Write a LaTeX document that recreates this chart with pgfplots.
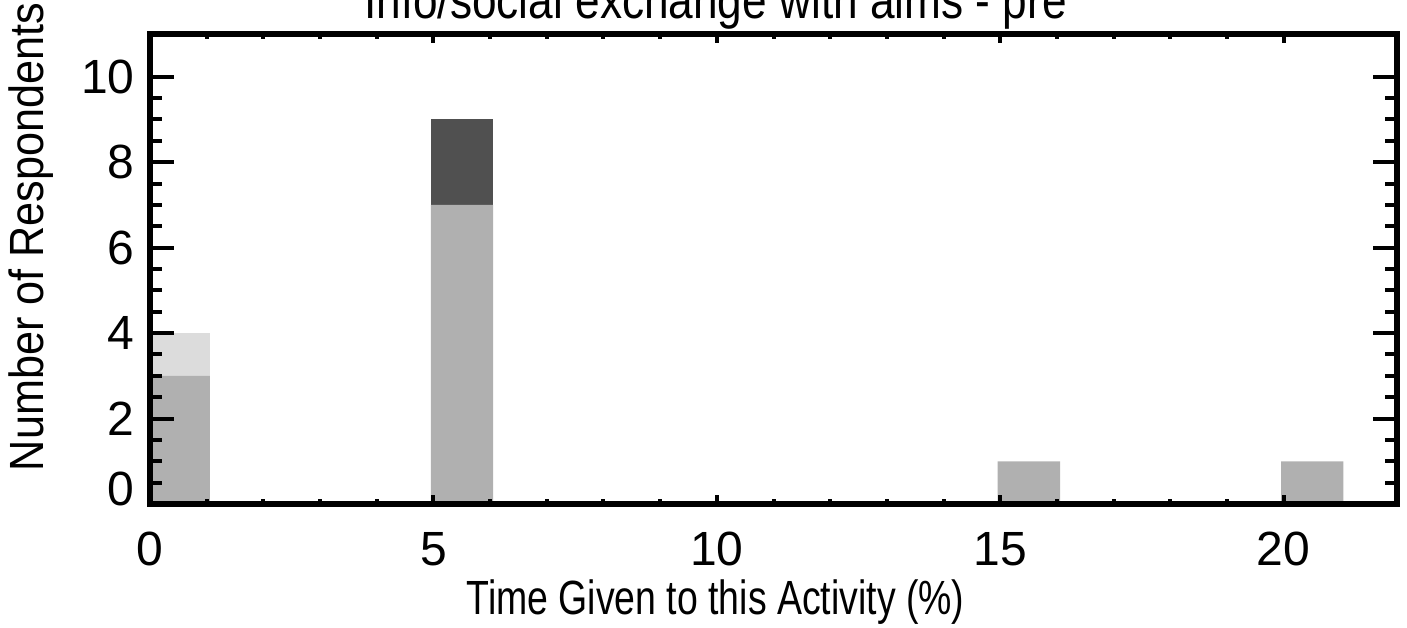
\documentclass[border=0pt]{standalone}
\usepackage{fontspec}
\setmainfont{Liberation Sans}
\usepackage{graphicx}
\usepackage{pgfplots}
\pgfplotsset{compat=1.18}
\definecolor{barmid}{RGB}{176,176,176}
\definecolor{barlight}{RGB}{220,220,220}
\definecolor{bardark}{RGB}{80,80,80}
\begin{document}
\begin{tikzpicture}
\pgfplotsset{
  common/.style={
    at={(0,0)}, anchor=south west,
    scale only axis, width=623.5pt, height=235pt,
    xmin=0, xmax=22, ymin=0, ymax=11,
    axis on top,
    tick align=inside,
    tick style={black, line width=2pt},
    axis line style={line width=2.75pt},
  }
}
% axis with bars and x ticks
\begin{axis}[common,
  xtick={0,5,10,15,20},
  xticklabels={0,5,10,15,20},
  minor x tick num=4,
  ytick=\empty,
  major tick length=4.5pt, minor tick length=2.5pt,
  xticklabel style={font=\fontsize{24}{28}\selectfont, anchor=base, yshift=-30.5pt, inner sep=0pt},
  ybar stacked, bar width=1.1,
]
\addplot[fill=barmid, draw=none] coordinates {(0.505,3) (5.505,7) (15.505,1) (20.505,1)};
\addplot[fill=barlight, draw=none] coordinates {(0.505,1) (5.505,0) (15.505,0) (20.505,0)};
\addplot[fill=bardark, draw=none] coordinates {(0.505,0) (5.505,2) (15.505,0) (20.505,0)};
\end{axis}
% axis with y ticks and labels
\begin{axis}[common,
  xtick=\empty,
  ytick={0,2,4,6,8,10},
  yticklabels={\raisebox{15pt}{0},2,4,6,8,10},
  minor y tick num=3,
  major tick length=12pt, minor tick length=6pt,
  yticklabel style={font=\fontsize{24}{28}\selectfont, anchor=east, xshift=-7.5pt, inner sep=0pt},
  every axis title shift=0pt,
  title={\scalebox{0.85}[1]{Info/social exchange with aims - pre}},
  title style={font=\fontsize{26}{30}\selectfont, at={(axis description cs:0.4535,1.032)}, anchor=base, inner sep=0pt},
  xlabel={\scalebox{0.78}[1]{Time Given to this Activity (\%)}},
  xlabel style={font=\fontsize{24}{28}\selectfont, at={(axis description cs:0.4535,-0.236)}, anchor=base, inner sep=0pt},
  ylabel={\scalebox{0.9}[1]{Number of Respondents}},
  ylabel style={font=\fontsize{24}{28}\selectfont, at={(axis description cs:-0.0850,0.568)}, anchor=base, inner sep=0pt},
]
\end{axis}
\pgfresetboundingbox
\useasboundingbox (-75pt,-61.5pt) rectangle (628.5pt,252pt);
\end{tikzpicture}
\end{document}
